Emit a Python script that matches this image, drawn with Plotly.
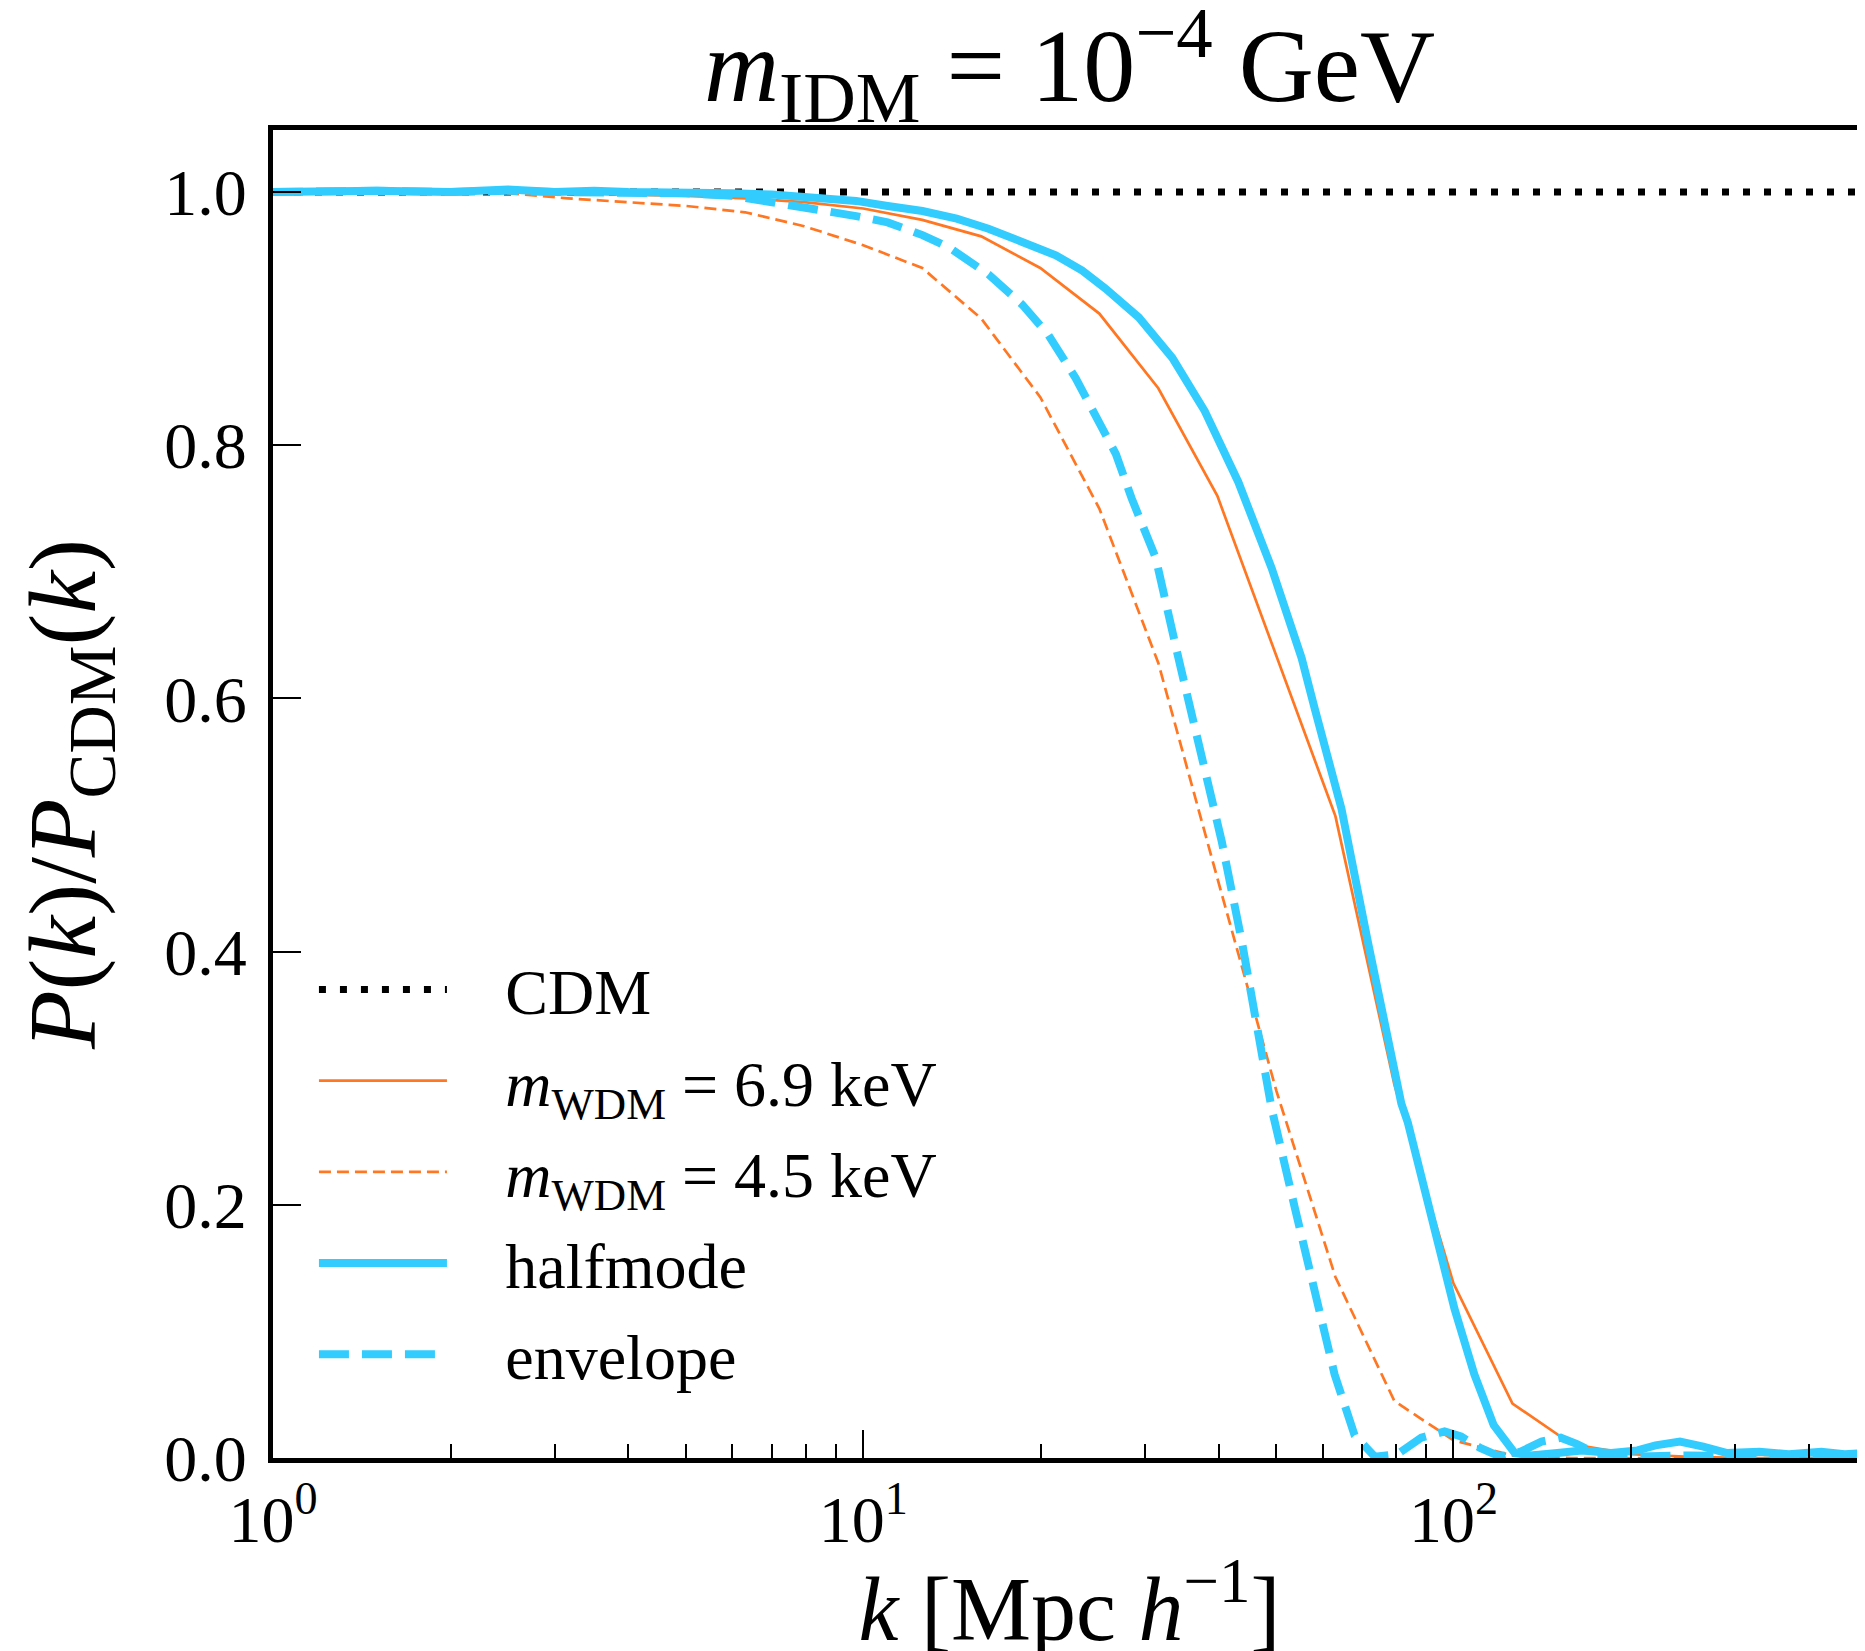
import plotly.graph_objects as go

# ---------------- data ----------------
k_cdm = [1.0, 501.0]
p_cdm = [1.0, 1.0]

# m_WDM = 6.9 keV (coarse sampling, 0.1 dex)
k_wdm69 = [1.0, 1.259, 1.585, 1.995, 2.512, 3.162, 3.981, 5.012, 6.310, 7.943,
           10.0, 12.59, 15.85, 19.95, 25.12, 31.62, 39.81, 50.12, 63.10, 79.43,
           100.0, 125.9, 158.5, 199.5, 251.2, 316.2, 398.1, 501.2]
p_wdm69 = [1.0, 1.0, 1.0, 1.0, 1.0, 0.999, 0.998, 0.997, 0.995, 0.992,
           0.987, 0.978, 0.965, 0.940, 0.904, 0.845, 0.760, 0.634, 0.507, 0.295,
           0.138, 0.043, 0.011, 0.003, 0.001, 0.0, 0.0, 0.0]

# m_WDM = 4.5 keV (coarse sampling, 0.1 dex)
k_wdm45 = [1.0, 1.259, 1.585, 1.995, 2.512, 3.162, 3.981, 5.012, 6.310, 7.943,
           10.0, 12.59, 15.85, 19.95, 25.12, 31.62, 39.81, 50.12, 63.10, 79.43,
           100.0, 125.9, 158.5, 199.5, 251.2, 316.2, 398.1, 501.2]
p_wdm45 = [1.0, 1.0, 1.0, 1.0, 0.999, 0.995, 0.992, 0.989, 0.984, 0.973,
           0.958, 0.940, 0.900, 0.838, 0.750, 0.628, 0.458, 0.290, 0.143, 0.045,
           0.014, 0.002, 0.0, 0.0, 0.0, 0.0, 0.0, 0.0]

# halfmode
k_half = [1.0, 1.5, 2.0, 2.5, 3.0, 3.5, 4.0, 5.0, 6.0, 7.0, 8.0, 9.73, 11.0, 12.6,
          14.4, 16.3, 18.5, 21.2, 23.5, 25.7, 29.3, 33.4, 37.9, 43.2, 49.2, 55.3,
          58.2, 64.6, 71.6, 77.5, 81.6, 83.7, 91.6, 100.4, 108.5, 117.0, 127.0,
          135.0, 150.0, 165.0, 185.0, 205.0, 220.0, 242.0, 265.0, 290.0, 330.0,
          370.0, 420.0, 460.0, 501.0]
p_half = [1.0, 1.001, 1.0, 1.002, 1.0, 1.001, 1.0, 1.0, 0.999, 0.998, 0.996, 0.993,
          0.989, 0.985, 0.979, 0.971, 0.961, 0.950, 0.938, 0.924, 0.901, 0.869,
          0.827, 0.771, 0.703, 0.632, 0.592, 0.513, 0.408, 0.329, 0.280, 0.265,
          0.192, 0.118, 0.066, 0.026, 0.004, 0.002, 0.004, 0.006, 0.004, 0.006,
          0.010, 0.013, 0.009, 0.004, 0.005, 0.003, 0.005, 0.003, 0.004]

# envelope
k_env = [1.0, 1.5, 2.0, 2.5, 3.0, 4.0, 5.0, 6.0, 7.0, 8.0, 9.0, 9.73, 11.0, 12.6,
         14.0, 16.3, 18.6, 20.6, 22.9, 25.1, 26.8, 28.5, 31.3, 34.2, 37.0, 40.5,
         43.8, 46.4, 49.2, 53.9, 58.2, 62.9, 68.0, 73.6, 80.4, 88.2, 96.6, 103.0,
         111.0, 120.0, 130.0, 141.0, 152.0, 162.0, 175.0, 200.0, 250.0, 300.0,
         400.0, 501.0]
p_env = [1.0, 1.001, 1.0, 1.001, 1.0, 1.0, 0.999, 0.997, 0.992, 0.988, 0.985, 0.981,
         0.976, 0.966, 0.956, 0.935, 0.911, 0.887, 0.853, 0.819, 0.793, 0.758,
         0.711, 0.632, 0.566, 0.487, 0.408, 0.340, 0.276, 0.197, 0.132, 0.066,
         0.018, 0.001, 0.003, 0.016, 0.021, 0.017, 0.008, 0.001, 0.005, 0.013,
         0.016, 0.011, 0.003, 0.001, 0.002, 0.001, 0.001, 0.0]

names = ["CDM",
         "<i>m</i><sub>WDM</sub> = 6.9 keV",
         "<i>m</i><sub>WDM</sub> = 4.5 keV",
         "halfmode",
         "envelope"]

x_tickvals = [1, 10, 100]
x_ticktext = ["10<sup>0</sup>", "10<sup>1</sup>", "10<sup>2</sup>"]
x_minor = [2, 3, 4, 5, 6, 7, 8, 9, 20, 30, 40, 50, 60, 70, 80, 90, 200, 300, 400, 500]
y_tickvals = [0.0, 0.2, 0.4, 0.6, 0.8, 1.0]
y_ticktext = ["0.0", "0.2", "0.4", "0.6", "0.8", "1.0"]

# ---------------- styling ----------------
BLUE = "#33CCFF"
ORANGE = "#FF7722"
FONT = "Liberation Serif"
PAD = "\u2002\u00a0\u200a"  # gap between legend sample and label

series = [
    (k_cdm, p_cdm, dict(color="black", width=7, dash="7px,14px")),
    (k_wdm69, p_wdm69, dict(color=ORANGE, width=2.7)),
    (k_wdm45, p_wdm45, dict(color=ORANGE, width=2.7, dash="12px,6px")),
    (k_half, p_half, dict(color=BLUE, width=8)),
    (k_env, p_env, dict(color=BLUE, width=8, dash="30px,13px")),
]

fig = go.Figure()
for i, (kx, py, ln) in enumerate(series):
    fig.add_trace(go.Scatter(x=kx, y=py, mode="lines", name=PAD + names[i],
                             legendgroup="g%d" % i, line=ln))

fig.update_layout(
    width=1865, height=1651,
    margin=dict(l=265, r=2, t=122, b=201),
    paper_bgcolor="white", plot_bgcolor="white",
    font=dict(family=FONT, size=66, color="black"),
    title=dict(text="<i>m</i><sub>IDM</sub> = 10<sup>−4</sup> GeV",
               x=0.5, xref="paper", xanchor="center",
               y=0.966, yref="container", yanchor="middle",
               font=dict(family=FONT, size=104, color="black")),
    showlegend=True,
    legend=dict(x=0.0257, y=0.389, xanchor="left", yanchor="top",
                bgcolor="rgba(0,0,0,0)", borderwidth=0,
                itemwidth=128, font=dict(family=FONT, size=64, color="black"),
                tracegroupgap=5),
)

fig.update_xaxes(
    type="log", range=[0, 2.699],
    tickvals=x_tickvals, ticktext=x_ticktext,
    ticks="inside", ticklen=28, tickwidth=2, tickcolor="black",
    minor=dict(tickvals=x_minor, ticks="inside", ticklen=14, tickwidth=2, tickcolor="black"),
    showline=True, linewidth=5, linecolor="black", mirror=True,
    showgrid=False, zeroline=False,
    tickfont=dict(family=FONT, size=66, color="black"),
    title=dict(text="<i>k</i> [Mpc <i>h</i><sup>−1</sup>]",
               font=dict(family=FONT, size=90, color="black"), standoff=26),
)
fig.update_yaxes(
    range=[0, 1.049],
    tickvals=y_tickvals, ticktext=y_ticktext,
    ticks="inside", ticklen=28, tickwidth=2, tickcolor="black",
    ticklabelstandoff=8,
    showline=True, linewidth=5, linecolor="black", mirror=True,
    showgrid=False, zeroline=False,
    tickfont=dict(family=FONT, size=66, color="black"),
    title=dict(text="<i>P</i>(<i>k</i>)/<i>P</i><sub>CDM</sub>(<i>k</i>)",
               font=dict(family=FONT, size=96, color="black"), standoff=38),
)

fig.write_html("out.html")
